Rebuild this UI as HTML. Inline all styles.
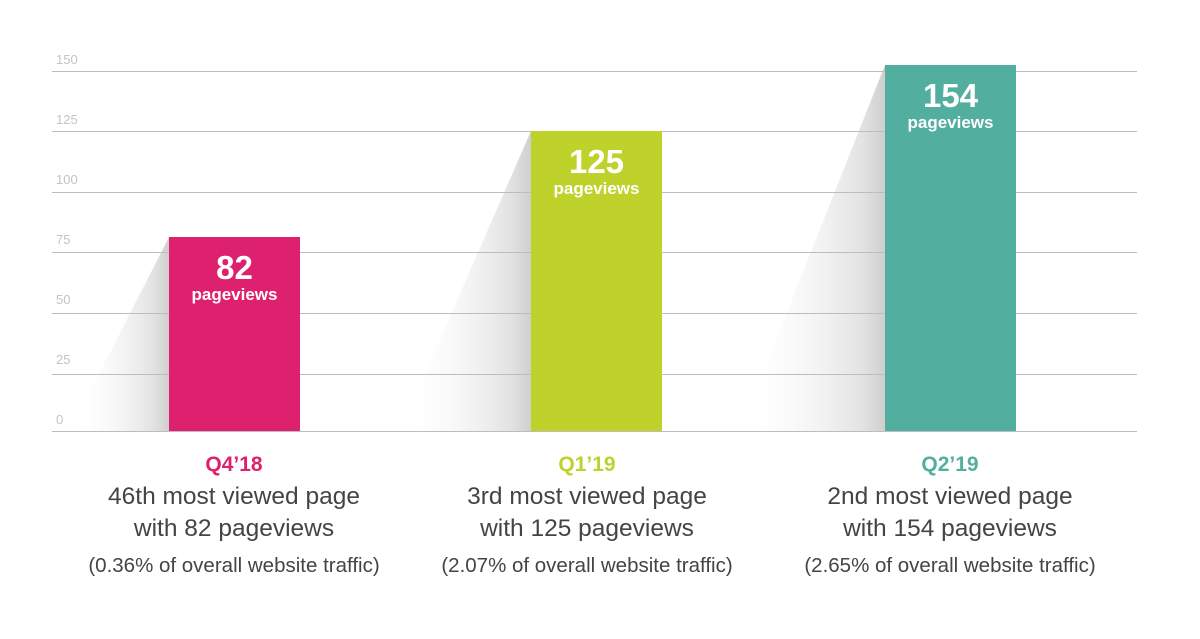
<!DOCTYPE html>
<html><head><style>
body{margin:0;width:1200px;height:639px;background:#fff;font-family:"Liberation Sans",sans-serif;overflow:hidden;position:relative}
.g{position:absolute;left:52px;width:1085px;height:1px;background:#bdbdbd}
.yl{position:absolute;left:56px;font-size:13px;color:#c4c4c4}
.bar{position:absolute;width:131px;color:#fff;text-align:center}
.bar b{display:block;font-size:33px;margin-top:13px;line-height:35px}
.bar span{display:block;font-size:17px;font-weight:bold;line-height:20px}
.cap{position:absolute;width:440px;text-align:center;color:#444}
.cap .q{font-weight:bold;font-size:21px;line-height:26px}
.cap .l{font-size:24.5px;line-height:32px;margin-top:3px}
.cap .s{font-size:20.5px;line-height:24px;margin-top:9px}
</style></head><body>
<svg width="1200" height="639" style="position:absolute;left:0;top:0">
<defs><linearGradient id="sh" x1="0" y1="0" x2="1" y2="0">
<stop offset="0" stop-color="#fff" stop-opacity="0"/><stop offset="0.85" stop-color="#e2e2e2"/><stop offset="1" stop-color="#cfcfcf"/></linearGradient></defs>
<polygon points="169,237 169,431 70,431" fill="url(#sh)"/>
<polygon points="531,131 531,431 400,431" fill="url(#sh)"/>
<polygon points="885,65 885,431 740,431" fill="url(#sh)"/>
</svg>
<div class="g" style="top:71px"></div><div class="g" style="top:131px"></div><div class="g" style="top:192px"></div><div class="g" style="top:252px"></div><div class="g" style="top:313px"></div><div class="g" style="top:374px"></div><div class="g" style="top:431px"></div>
<div class="yl" style="top:52px">150</div><div class="yl" style="top:112px">125</div><div class="yl" style="top:172px">100</div><div class="yl" style="top:232px">75</div><div class="yl" style="top:292px">50</div><div class="yl" style="top:352px">25</div><div class="yl" style="top:412px">0</div>
<div class="bar" style="left:169px;top:237px;height:194px;background:#de216e"><b>82</b><span>pageviews</span></div>
<div class="bar" style="left:531px;top:131px;height:300px;background:#bfd22b"><b>125</b><span>pageviews</span></div>
<div class="bar" style="left:885px;top:65px;height:366px;background:#52ae9f"><b>154</b><span>pageviews</span></div>
<div class="cap" style="left:14px;top:452px"><div class="q" style="color:#de216e">Q4’18</div><div class="l">46th most viewed page<br>with 82 pageviews</div><div class="s">(0.36% of overall website traffic)</div></div>
<div class="cap" style="left:367px;top:452px"><div class="q" style="color:#bfd22b">Q1’19</div><div class="l">3rd most viewed page<br>with 125 pageviews</div><div class="s">(2.07% of overall website traffic)</div></div>
<div class="cap" style="left:730px;top:452px"><div class="q" style="color:#52ae9f">Q2’19</div><div class="l">2nd most viewed page<br>with 154 pageviews</div><div class="s">(2.65% of overall website traffic)</div></div>
</body></html>
